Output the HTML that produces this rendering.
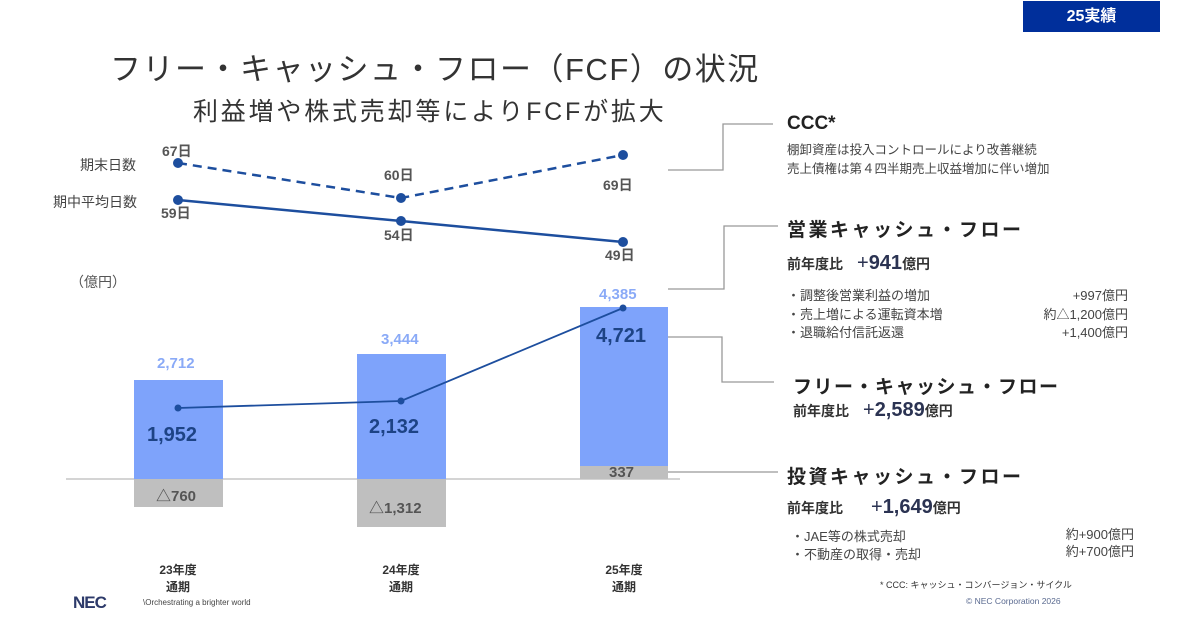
<!DOCTYPE html>
<html><head><meta charset="utf-8"><style>
body{margin:0;width:1200px;height:630px;background:#fff;overflow:hidden;position:relative;font-family:"Liberation Sans","Noto Sans CJK JP",sans-serif;}
.a{position:absolute;white-space:nowrap;}
</style></head><body>
<div class="a" style="left:1023px;top:1px;width:137px;height:31px;background:#002f9b;color:#fff;font-weight:bold;font-size:16px;line-height:31px;text-align:center;">25実績</div>
<div class="a" style="left:110px;top:44px;font-size:31px;color:#333;letter-spacing:1.5px;">フリー・キャッシュ・フロー（FCF）の状況</div>
<div class="a" style="left:193px;top:92px;font-size:25px;color:#333;letter-spacing:2.8px;">利益増や株式売却等によりFCFが拡大</div>
<svg class="a" style="left:0;top:0" width="1200" height="630">
<g fill="none" stroke="#999" stroke-width="1.3">
<polyline points="668,170 723,170 723,124 773,124"/>
<polyline points="668,289 724,289 724,226 778,226"/>
<polyline points="668,337 722,337 722,382 774,382"/>
<polyline points="668,472 778,472"/>
</g>
<line x1="66" y1="479" x2="680" y2="479" stroke="#bbb" stroke-width="1.2"/>
<rect x="134" y="380" width="89" height="99" fill="#7ea3fb"/>
<rect x="134" y="479" width="89" height="28" fill="#bfbfbf"/>
<rect x="357" y="354" width="89" height="125" fill="#7ea3fb"/>
<rect x="357" y="479" width="89" height="48" fill="#bfbfbf"/>
<rect x="580" y="307" width="88" height="159" fill="#7ea3fb"/>
<rect x="580" y="466" width="88" height="13" fill="#bfbfbf"/>
<polyline points="178,408 401,401 623,308" fill="none" stroke="#1d4e9e" stroke-width="1.8"/>
<g fill="#1d4e9e"><circle cx="178" cy="408" r="3.5"/><circle cx="401" cy="401" r="3.5"/><circle cx="623" cy="308" r="3.5"/></g>
<polyline points="178,163 401,198 623,155" fill="none" stroke="#1d4e9e" stroke-width="2.5" stroke-dasharray="9,6"/>
<polyline points="178,200 401,221 623,242" fill="none" stroke="#1d4e9e" stroke-width="2.5"/>
<g fill="#1d4e9e"><circle cx="178" cy="163" r="5"/><circle cx="401" cy="198" r="5"/><circle cx="623" cy="155" r="5"/><circle cx="178" cy="200" r="5"/><circle cx="401" cy="221" r="5"/><circle cx="623" cy="242" r="5"/></g>
</svg>
<div class="a" style="left:80px;top:155px;font-size:14px;color:#444;">期末日数</div>
<div class="a" style="left:53px;top:192px;font-size:14px;color:#444;">期中平均日数</div>
<div style="font-weight:bold;font-size:14px;color:#555;">
<div class="a" style="left:162px;top:141px;">67日</div>
<div class="a" style="left:384px;top:165px;">60日</div>
<div class="a" style="left:603px;top:175px;">69日</div>
<div class="a" style="left:161px;top:203px;">59日</div>
<div class="a" style="left:384px;top:225px;">54日</div>
<div class="a" style="left:605px;top:245px;">49日</div>
</div>
<div class="a" style="left:70px;top:272px;font-size:14px;color:#555;">（億円）</div>
<div style="font-size:15px;color:#8aaaf7;font-weight:bold;">
<div class="a" style="left:157px;top:355px;">2,712</div>
<div class="a" style="left:381px;top:331px;">3,444</div>
<div class="a" style="left:599px;top:286px;">4,385</div>
</div>
<div style="font-size:20px;color:#1d4385;font-weight:bold;">
<div class="a" style="left:147px;top:424px;">1,952</div>
<div class="a" style="left:369px;top:416px;">2,132</div>
<div class="a" style="left:596px;top:325px;">4,721</div>
</div>
<div style="font-size:15px;color:#555;font-weight:bold;">
<div class="a" style="left:156px;top:485px;">△760</div>
<div class="a" style="left:369px;top:497px;">△1,312</div>
<div class="a" style="left:609px;top:464px;">337</div>
</div>
<div style="font-size:12px;color:#333;font-weight:bold;text-align:center;line-height:17px;">
<div class="a" style="left:150px;top:562px;width:56px;">23年度<br>通期</div>
<div class="a" style="left:373px;top:562px;width:56px;">24年度<br>通期</div>
<div class="a" style="left:596px;top:562px;width:56px;">25年度<br>通期</div>
</div>
<div class="a" style="left:73px;top:593px;font-size:17px;font-weight:bold;color:#2d3a6a;letter-spacing:-1px;">NEC</div>
<div class="a" style="left:143px;top:598px;font-size:8px;color:#444;">\Orchestrating a brighter world</div>
<div class="a" style="left:787px;top:113px;font-size:19px;font-weight:bold;color:#222;">CCC*</div>
<div class="a" style="left:787px;top:141px;font-size:12.5px;color:#444;line-height:19px;">棚卸資産は投入コントロールにより改善継続<br>売上債権は第４四半期売上収益増加に伴い増加</div>
<div class="a" style="left:787px;top:215px;font-size:19px;font-weight:bold;color:#222;letter-spacing:2.5px;">営業キャッシュ・フロー</div>
<div class="a" style="left:787px;top:252px;font-size:14px;font-weight:bold;color:#333;">前年度比　<span style="font-size:20px;color:#2b3352;font-weight:normal;">+</span><span style="font-size:20px;color:#2b3352;">941</span>億円</div>
<div class="a" style="left:787px;top:287px;font-size:13px;color:#444;line-height:18.5px;">・調整後営業利益の増加<br>・売上増による運転資本増<br>・退職給付信託返還</div>
<div class="a" style="left:1020px;top:287px;width:108px;text-align:right;font-size:13px;color:#444;line-height:18.5px;">+997億円<br>約△1,200億円<br>+1,400億円</div>
<div class="a" style="left:793px;top:372px;font-size:19px;font-weight:bold;color:#222;letter-spacing:1.5px;">フリー・キャッシュ・フロー</div>
<div class="a" style="left:793px;top:399px;font-size:14px;font-weight:bold;color:#333;">前年度比　<span style="font-size:20px;color:#2b3352;font-weight:normal;">+</span><span style="font-size:20px;color:#2b3352;">2,589</span>億円</div>
<div class="a" style="left:787px;top:462px;font-size:19px;font-weight:bold;color:#222;letter-spacing:2.5px;">投資キャッシュ・フロー</div>
<div class="a" style="left:787px;top:496px;font-size:14px;font-weight:bold;color:#333;">前年度比　　<span style="font-size:20px;color:#2b3352;font-weight:normal;">+</span><span style="font-size:20px;color:#2b3352;">1,649</span>億円</div>
<div class="a" style="left:791px;top:528px;font-size:13px;color:#444;line-height:18px;">・JAE等の株式売却<br>・不動産の取得・売却</div>
<div class="a" style="left:1030px;top:526px;width:104px;text-align:right;font-size:13px;color:#444;line-height:17px;">約+900億円<br>約+700億円</div>
<div class="a" style="left:880px;top:578px;font-size:9px;color:#333;">* CCC: キャッシュ・コンバージョン・サイクル</div>
<div class="a" style="left:966px;top:596px;font-size:8.5px;color:#5a6a90;">© NEC Corporation 2026</div>
</body></html>
